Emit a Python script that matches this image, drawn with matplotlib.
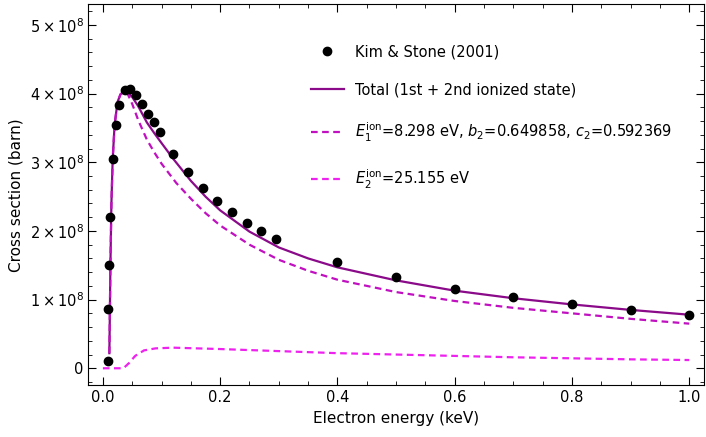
import numpy as np
import matplotlib.pyplot as plt
from matplotlib.ticker import FuncFormatter, MultipleLocator

# Kim & Stone (2001) data, energy in keV, cross section in barn
KS_E = [0.0085, 0.009, 0.0105, 0.012, 0.0165, 0.022, 0.027, 0.037, 0.047, 0.057,
        0.067, 0.077, 0.087, 0.098, 0.12, 0.145, 0.17, 0.195, 0.22, 0.245, 0.27,
        0.295, 0.4, 0.5, 0.6, 0.7, 0.8, 0.9, 1.0]
KS_S = [0.10e8, 0.86e8, 1.50e8, 2.20e8, 3.05e8, 3.55e8, 3.84e8, 4.06e8, 4.07e8, 3.98e8,
        3.85e8, 3.71e8, 3.58e8, 3.44e8, 3.12e8, 2.86e8, 2.63e8, 2.43e8, 2.27e8, 2.12e8, 2.00e8,
        1.89e8, 1.55e8, 1.33e8, 1.16e8, 1.04e8, 0.94e8, 0.85e8, 0.78e8]

# Total (1st + 2nd ionized state)
TOT_E = [0.0110, 0.0120, 0.0128, 0.0145, 0.0167, 0.020, 0.025, 0.030, 0.036, 0.042, 0.050,
         0.060, 0.075, 0.088, 0.10, 0.12, 0.15, 0.175, 0.20, 0.25, 0.30, 0.35, 0.40, 0.50,
         0.60, 0.70, 0.80, 0.90, 1.0]
TOT_S = [0.22e8, 0.90e8, 1.50e8, 2.40e8, 3.05e8, 3.55e8, 3.88e8, 3.99e8, 4.03e8, 4.02e8, 3.95e8,
         3.82e8, 3.58e8, 3.42e8, 3.28e8, 3.05e8, 2.73e8, 2.50e8, 2.30e8, 1.99e8, 1.76e8, 1.60e8,
         1.47e8, 1.28e8, 1.13e8, 1.02e8, 0.93e8, 0.85e8, 0.78e8]

# 1st ionized state
E1_E = [0.0110, 0.0120, 0.0128, 0.0145, 0.0167, 0.020, 0.025, 0.030, 0.036, 0.042, 0.050,
        0.060, 0.075, 0.088, 0.10, 0.125, 0.15, 0.175, 0.20, 0.25, 0.30, 0.35, 0.40, 0.50,
        0.60, 0.70, 0.80, 0.90, 1.0]
E1_S = [0.22e8, 0.90e8, 1.50e8, 2.40e8, 3.05e8, 3.55e8, 3.88e8, 3.99e8, 4.03e8, 4.00e8, 3.85e8,
        3.62e8, 3.33e8, 3.14e8, 2.98e8, 2.70e8, 2.47e8, 2.26e8, 2.08e8, 1.80e8, 1.58e8, 1.42e8,
        1.29e8, 1.11e8, 0.98e8, 0.88e8, 0.80e8, 0.72e8, 0.65e8]

# 2nd ionized state
E2_E = [0.0, 0.025, 0.035, 0.045, 0.055, 0.07, 0.09, 0.12, 0.2, 0.3, 0.4, 0.5, 0.6, 0.7, 0.8, 0.9, 1.0]
E2_S = [0.0, 0.0, 0.0, 0.08e8, 0.18e8, 0.26e8, 0.29e8, 0.30e8, 0.28e8, 0.25e8, 0.22e8, 0.20e8,
        0.18e8, 0.16e8, 0.145e8, 0.13e8, 0.12e8]

C_TOT = "#8a0a8a"
C_E1 = "#c010c0"
C_E2 = "#ee22ee"

fig = plt.figure(figsize=(7.06, 4.37), dpi=100)
ax = fig.add_axes([0.125, 0.118, 0.872, 0.872])

ax.plot(TOT_E, TOT_S, color=C_TOT, lw=1.6, label="Total (1st + 2nd ionized state)")
ax.plot(E1_E, E1_S, color=C_E1, lw=1.6, ls=(0, (3, 2)),
        label=r"$E_1^{\rm ion}$=8.298 eV, $b_2$=0.649858, $c_2$=0.592369")
ax.plot(E2_E, E2_S, color=C_E2, lw=1.6, ls=(0, (3, 2)), label=r"$E_2^{\rm ion}$=25.155 eV")
ax.plot(KS_E, KS_S, "o", color="black", ms=6, label="Kim & Stone (2001)", zorder=5)

ax.set_xlim(-0.025, 1.025)
ax.set_ylim(-0.25e8, 5.3e8)
ax.xaxis.set_major_locator(MultipleLocator(0.2))
ax.xaxis.set_minor_locator(MultipleLocator(0.05))
ax.yaxis.set_major_locator(MultipleLocator(1e8))
ax.yaxis.set_minor_locator(MultipleLocator(0.2e8))


def yfmt(v, pos):
    n = int(round(v / 1e8))
    return "0" if n == 0 else r"$%d\times10^{8}$" % n


def xfmt(v, pos):
    return "%.1f" % v


ax.yaxis.set_major_formatter(FuncFormatter(yfmt))
ax.xaxis.set_major_formatter(FuncFormatter(xfmt))
ax.tick_params(which="both", direction="in", top=True, right=True, labelsize=10.5)
ax.tick_params(which="major", length=6)
ax.tick_params(which="minor", length=3)

ax.set_xlabel("Electron energy (keV)", fontsize=11)
ax.set_ylabel("Cross section (barn)", fontsize=11)

h, l = ax.get_legend_handles_labels()
order = [3, 0, 1, 2]
ax.legend([h[i] for i in order], [l[i] for i in order], loc="upper right",
          bbox_to_anchor=(0.97, 0.93), frameon=False, fontsize=10.5,
          labelspacing=1.6, handlelength=2.2)

fig.savefig("out.png", dpi=100)
